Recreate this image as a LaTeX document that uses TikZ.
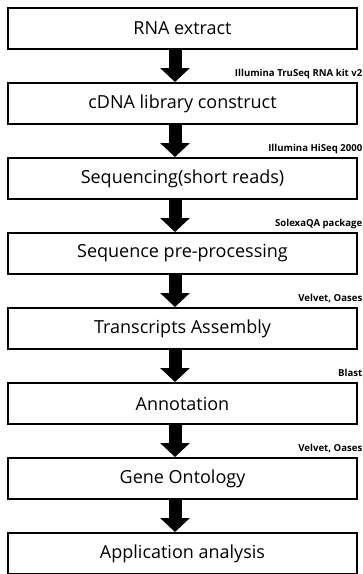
\documentclass[tikz,border=0pt]{standalone}
\usepackage{fontspec}
\setmainfont{Open Sans}
\usetikzlibrary{positioning,arrows.meta}

\tikzset{
  stepbox/.style={draw, line width=2pt, minimum width=349pt, minimum height=41pt,
    inner sep=0pt, font=\fontsize{18}{21}\selectfont},
  flowarrow/.style={line width=13pt, -{Triangle[width=29pt,length=14pt]}},
  toollabel/.style={anchor=base east, inner sep=0pt, font=\fontsize{9.6}{11}\selectfont\bfseries}
}

\begin{document}
\begin{tikzpicture}[node distance=32pt]
   \useasboundingbox (0pt,0pt) rectangle (363pt,-574pt);
   \node[stepbox] (rna) at (182.5pt,-28.5pt) {RNA extract};
   \node[stepbox, below=of rna] (cdna) {cDNA library construct};
   \node[stepbox, below=of cdna] (seq) {Sequencing(short reads)};
   \node[stepbox, below=of seq] (preproc) {Sequence pre-processing};
   \node[stepbox, below=of preproc] (assembly) {Transcripts Assembly};
   \node[stepbox, below=of assembly] (annot) {Annotation};
   \node[stepbox, below=of annot] (geneont) {Gene Ontology};
   \node[stepbox, below=of geneont] (applic) {Application analysis};

   \draw[flowarrow] ([xshift=-7.5pt]rna.south) -- ([xshift=-7.5pt]cdna.north);
   \draw[flowarrow] ([xshift=-7.5pt]cdna.south) -- ([xshift=-7.5pt]seq.north);
   \draw[flowarrow] ([xshift=-7.5pt]seq.south) -- ([xshift=-7.5pt]preproc.north);
   \draw[flowarrow] ([xshift=-7.5pt]preproc.south) -- ([xshift=-7.5pt]assembly.north);
   \draw[flowarrow] ([xshift=-7.5pt]assembly.south) -- ([xshift=-7.5pt]annot.north);
   \draw[flowarrow] ([xshift=-7.5pt]annot.south) -- ([xshift=-7.5pt]geneont.north);
   \draw[flowarrow] ([xshift=-7.5pt]geneont.south) -- ([xshift=-7.5pt]applic.north);

   \node[toollabel] (kit) at ([xshift=4.5pt,yshift=6pt]cdna.north east) {Illumina TruSeq RNA kit v2};
   \node[toollabel] (hiseq) at ([xshift=4.5pt,yshift=6pt]seq.north east) {Illumina HiSeq 2000};
   \node[toollabel] (solexa) at ([xshift=4.5pt,yshift=6pt]preproc.north east) {SolexaQA package};
   \node[toollabel] (velvet) at ([xshift=4.5pt,yshift=6pt]assembly.north east) {Velvet, Oases};
   \node[toollabel] (blast) at ([xshift=4.5pt,yshift=6pt]annot.north east) {Blast};
   \node[toollabel] (velvetgo) at ([xshift=4.5pt,yshift=6pt]geneont.north east) {Velvet, Oases};
\end{tikzpicture}
\end{document}
